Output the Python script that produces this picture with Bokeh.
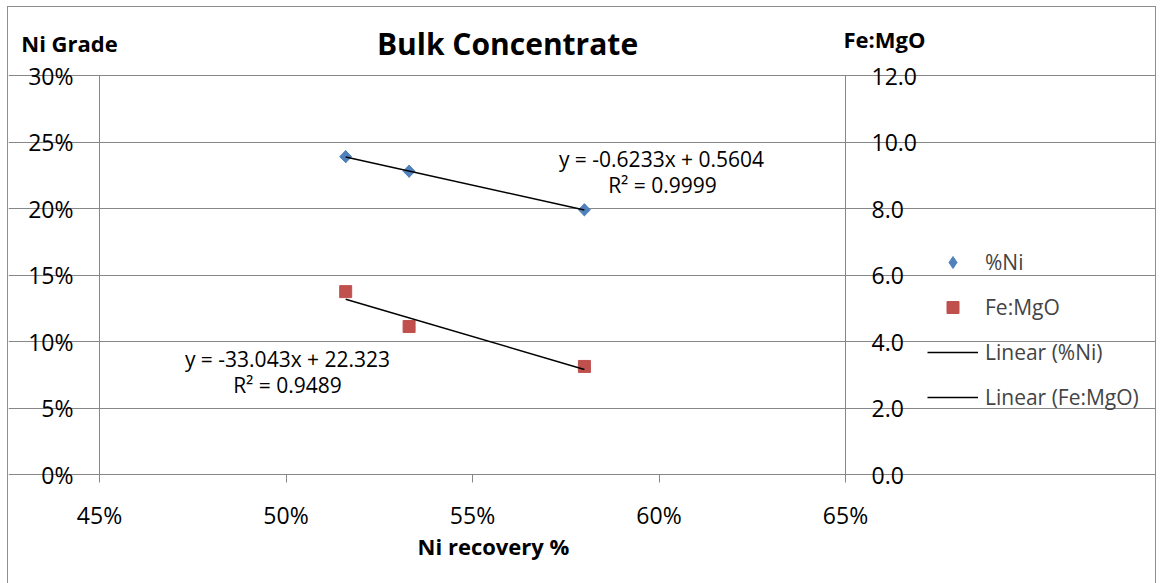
from bokeh.plotting import figure
from bokeh.models import (Range1d, LinearAxis, FixedTicker, PrintfTickFormatter,
                          Label, Legend, LegendItem, ColumnDataSource)
from bokeh.embed import file_html
from bokeh.resources import INLINE
import math

# ---------------- data ----------------
recovery = [51.6, 53.3, 58.0]        # Ni recovery %
ni_grade = [23.9, 22.8, 19.9]        # %Ni (Ni grade)
fe_mgo = [5.50, 4.45, 3.25]          # Fe:MgO ratio
ni_fit = [-0.6233, 0.5604]           # slope, intercept (fraction units)
fe_fit = [-33.043, 22.323]           # slope, intercept (x as fraction)
ni_r2 = "0.9999"
fe_r2 = "0.9489"
x_ticks = [45, 50, 55, 60, 65]
y_ticks = [0, 5, 10, 15, 20, 25, 30]
fe_ticks = [0, 2, 4, 6, 8, 10, 12]

FONT = "Open Sans"
GRAY = "#878787"
BLUE = "#4F81BD"
RED = "#C0504D"

# trend lines from the fitted equations
fit_x = [min(recovery), max(recovery)]
ni_line = [100 * (ni_fit[0] * x / 100 + ni_fit[1]) for x in fit_x]
fe_line = [fe_fit[0] * x / 100 + fe_fit[1] for x in fit_x]

# ---- layout: canvas at page (8,7), 1147x576; plot area spans page x 99..845, y 75..474
CX, CY, CW, CH = 8, 7, 1147, 576
PX0, PX1, PY0, PY1 = 99, 845, 75, 474   # page pixels of 45%..65% and 30%..0%
XMIN, XMAX, YMIN, YMAX, FMAX = 45, 65, 0, 30, 12

def dx(px):
    return XMIN + (px - PX0) * (XMAX - XMIN) / (PX1 - PX0)

def dy(py):
    return YMIN + (PY1 - py) * (YMAX - YMIN) / (PY1 - PY0)

x_rng = Range1d(dx(CX), dx(CX + CW))
y_rng = Range1d(dy(CY + CH), dy(CY))
fe_rng = Range1d(y_rng.start * FMAX / YMAX, y_rng.end * FMAX / YMAX)

p = figure(width=CW, height=CH, x_range=x_rng, y_range=y_rng, title=None,
           output_backend="svg", toolbar_location=None, min_border=0)
p.extra_y_ranges = {"fe": fe_rng}
p.outline_line_color = None
p.background_fill_color = "white"
p.border_fill_color = "white"
p.styles = {"margin-left": "%dpx" % CX, "margin-top": "%dpx" % CY,
            "outline": "1px solid #8e8e8e"}

# grid (only across the plot area)
p.xgrid.visible = False
p.ygrid.ticker = FixedTicker(ticks=y_ticks)
p.ygrid.bounds = (XMIN, XMAX)
p.ygrid.grid_line_color = GRAY
p.ygrid.grid_line_width = 1

def style_axis(ax):
    ax.axis_line_color = GRAY
    ax.major_tick_line_color = GRAY
    ax.major_tick_out = 8
    ax.major_tick_in = 0
    ax.minor_tick_line_color = None
    ax.major_label_text_font = FONT
    ax.major_label_text_font_size = "23px"
    ax.major_label_text_color = "black"
    ax.major_label_standoff = 18

xa = p.xaxis[0]
xa.ticker = FixedTicker(ticks=x_ticks)
xa.formatter = PrintfTickFormatter(format="%d%%")
xa.fixed_location = YMIN
xa.bounds = (XMIN, XMAX)
style_axis(xa)
xa.major_label_standoff = 16

ya = p.yaxis[0]
ya.ticker = FixedTicker(ticks=y_ticks)
ya.formatter = PrintfTickFormatter(format="%d%%")
ya.fixed_location = XMIN
ya.bounds = (YMIN, YMAX)
style_axis(ya)

ra = LinearAxis(y_range_name="fe", ticker=FixedTicker(ticks=fe_ticks),
                formatter=PrintfTickFormatter(format="%.1f"),
                fixed_location=XMAX, bounds=(0, FMAX))
style_axis(ra)
ra.major_label_text_color = None   # labels drawn left-aligned below
p.add_layout(ra, "right")

# glyphs
src = ColumnDataSource(dict(x=recovery, ni=ni_grade, fe=fe_mgo))
r_ni_leg = p.scatter("x", "ni", source=src, marker="diamond", size=12,
                     fill_color=BLUE, line_color=BLUE)
r_ni = p.scatter("x", "ni", source=src, marker="square", angle=math.pi / 4, size=8.5,
                 fill_color=BLUE, line_color=BLUE)
r_fe = p.scatter("x", "fe", source=src, marker="square", size=12, y_range_name="fe",
                 fill_color=RED, line_color=RED)
l_ni = p.line(fit_x, ni_line, line_color="black", line_width=1.5)
l_fe = p.line(fit_x, fe_line, line_color="black", line_width=1.5, y_range_name="fe")

def lab(text, px, py, size, bold=False, align="center"):
    p.add_layout(Label(x=dx(px), y=dy(py), text=text, text_font=FONT,
                       text_font_size=size, text_font_style="bold" if bold else "normal",
                       text_align=align, text_baseline="alphabetic", text_color="black"))

lab("Bulk Concentrate", 507, 43, "30px", bold=True)
lab("Ni Grade", 69, 42, "22px", bold=True)
lab("Fe:MgO", 884, 38, "22px", bold=True)
lab("Ni recovery %", 493, 545, "22px", bold=True)
lab("y = %sx + %s" % (ni_fit[0], ni_fit[1]), 661, 158, "21px")
lab("R² = %s" % ni_r2, 662, 184, "21px")
lab("y = %sx + %s" % (fe_fit[0], fe_fit[1]), 287, 358, "21px")
lab("R² = %s" % fe_r2, 287, 384, "21px")

# right-axis tick labels, left-aligned like the original
for t in fe_ticks:
    tick_py = PY1 - t / FMAX * (PY1 - PY0)
    lab("%.1f" % t, PX1 + 26, tick_py + 0.5, "23px", align="left")

legend = Legend(items=[LegendItem(label="%Ni", renderers=[r_ni_leg]),
                       LegendItem(label="Fe:MgO", renderers=[r_fe]),
                       LegendItem(label="Linear (%Ni)", renderers=[l_ni]),
                       LegendItem(label="Linear (Fe:MgO)", renderers=[l_fe])],
                location=(927 - CX, CY + CH - 412), orientation="vertical",
                glyph_width=51, glyph_height=30, label_height=30, spacing=15,
                label_standoff=7, padding=0, margin=0,
                border_line_color=None, background_fill_alpha=0,
                label_text_font=FONT, label_text_font_size="21px")
p.add_layout(legend)

open("out.html", "w").write(file_html(p, INLINE))
